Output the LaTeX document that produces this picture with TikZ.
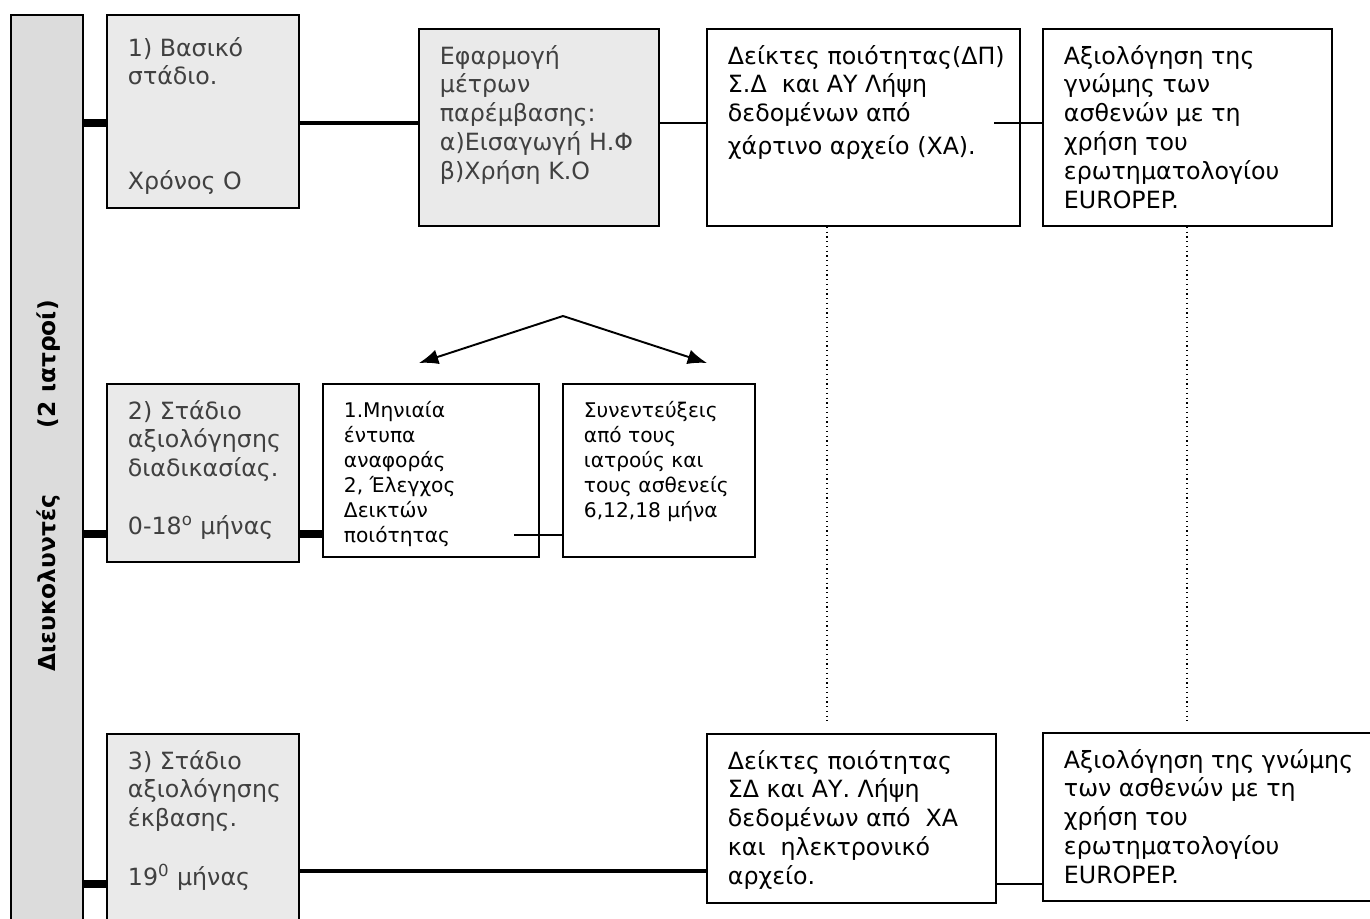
\documentclass[tikz,border=0pt]{standalone}
\usepackage{fontspec}
\setmainfont{DejaVu Sans}
\usetikzlibrary{arrows.meta}
\definecolor{stagefill}{HTML}{EAEAEA}
\definecolor{barfill}{HTML}{DCDCDC}
\definecolor{stagetext}{HTML}{404040}
% fixed-size text cell, lines never wrap
\newcommand{\boxtext}[3]{\begin{minipage}[t][#2][t]{#1}\begin{tabular}[t]{@{}l@{}}#3\end{tabular}\end{minipage}}
\tikzset{
    box/.style={draw, line width=1.1pt, anchor=north west, inner xsep=0.42cm, inner ysep=0.3cm,
        font=\fontsize{13.5}{16.4}\selectfont},
    stage/.style={box, fill=stagefill, text=stagetext},
    smallbox/.style={box, inner ysep=0.32cm, font=\fontsize{11.5}{14.2}\selectfont},
    heavy/.style={line width=4pt},
    mid/.style={line width=2pt},
    link/.style={line width=1.3pt},
    guide/.style={dotted, line width=0.7pt},
    split/.style={line width=1.1pt, -{Latex[length=11pt, width=8.5pt]}},
}
\begin{document}
\begin{tikzpicture}[x=0.02cm, y=-0.02cm]
                \useasboundingbox (0,0) rectangle (1370,919);
                \clip (0,0) rectangle (1370,919);

                % side bar
                \node[draw, line width=1.1pt, fill=barfill, anchor=north west, inner sep=0pt,
                    minimum width=1.44cm, minimum height=18.6cm] (bar) at (10,14) {};
                \node[rotate=90, font=\bfseries\fontsize{13.3}{15}\selectfont] (barlabel) at (49,486)
                    {Διευκολυντές\hspace{38pt}(2 ιατροί)};

                % row 1
                \node[stage, inner ysep=0.42cm] (base) at (106,14)
                    {\boxtext{3.0cm}{3.02cm}{1) Βασικό\\ στάδιο.\\[43pt] Χρόνος Ο}};
                \node[stage] (interv) at (418,28)
                    {\boxtext{3.96cm}{3.34cm}{Εφαρμογή\\ μέτρων\\ παρέμβασης:\\ α)Εισαγωγή Η.Φ\\ β)Χρήση Κ.Ο}};
                \node[box] (qualA) at (706,28)
                    {\boxtext{5.42cm}{3.34cm}{Δείκτες ποιότητας(ΔΠ)\\ Σ.Δ\ \ και ΑΥ Λήψη\\ δεδομένων από\\[2pt] χάρτινο αρχείο (ΧΑ).}};
                \node[box] (opinionA) at (1042,28)
                    {\boxtext{4.94cm}{3.34cm}{Αξιολόγηση της\\ γνώμης των\\ ασθενών με τη\\ χρήση του\\ ερωτηματολογίου\\ EUROPEP.}};

                % row 2
                \node[stage] (process) at (106,383)
                    {\boxtext{3.0cm}{2.96cm}{2) Στάδιο\\ αξιολόγησης\\ διαδικασίας.\\ \\ 0-18\textsuperscript{o} μήνας}};
                \node[smallbox] (reports) at (322,383)
                    {\boxtext{3.48cm}{2.82cm}{1.Μηνιαία\\ έντυπα\\ αναφοράς\\ 2, Έλεγχος\\ Δεικτών\\ ποιότητας}};
                \node[smallbox] (talks) at (562,383)
                    {\boxtext{3.0cm}{2.82cm}{Συνεντεύξεις\\ από τους\\ ιατρούς και\\ τους ασθενείς\\ 6,12,18 μήνα}};

                % row 3
                \node[stage] (outcome) at (106,733)
                    {\boxtext{3.0cm}{3.54cm}{3) Στάδιο\\ αξιολόγησης\\ έκβασης.\\ \\ 19\textsuperscript{0} μήνας}};
                \node[box] (qualB) at (706,733)
                    {\boxtext{4.94cm}{2.78cm}{Δείκτες ποιότητας\\ ΣΔ και ΑΥ. Λήψη\\ δεδομένων από\ \ ΧΑ\\ και\ \ ηλεκτρονικό\\ αρχείο.}};
                \node[box] (opinionB) at (1042,732)
                    {\boxtext{5.92cm}{2.76cm}{Αξιολόγηση της γνώμης\\ των ασθενών με τη\\ χρήση του\\ ερωτηματολογίου\\ EUROPEP.}};

                \coordinate (rowA) at (0,123);
                \coordinate (rowB) at (0,534);
                \coordinate (rowC) at (0,884);
                \coordinate (rowD) at (0,871);
                \coordinate (tailA) at (994,123);
                \coordinate (tailB) at (514,535);
                \coordinate (apex) at (563,316);
                \coordinate (tipL) at (419,363);
                \coordinate (tipR) at (707,363);
                \coordinate (endA) at (827,723);
                \coordinate (endB) at (1187,723);

                \draw[heavy] (bar.east |- rowA) -- (base.west |- rowA);
                \draw[mid] (base.east |- rowA) -- (interv.west |- rowA);
                \draw[link] (interv.east |- rowA) -- (qualA.west |- rowA);
                \draw[link] (tailA) -- (opinionA.west |- tailA);

                \draw[heavy] (bar.east |- rowB) -- (process.west |- rowB);
                \draw[heavy] (process.east |- rowB) -- (reports.west |- rowB);
                \draw[link] (tailB) -- (talks.west |- tailB);
                \draw[split] (apex) -- (tipL);
                \draw[split] (apex) -- (tipR);

                \draw[heavy] (bar.east |- rowC) -- (outcome.west |- rowC);
                \draw[mid] (outcome.east |- rowD) -- (qualB.west |- rowD);
                \draw[link] (qualB.east |- rowC) -- (opinionB.west |- rowC);

                \draw[guide] (qualA.south -| endA) -- (endA);
                \draw[guide] (opinionA.south -| endB) -- (endB);
\end{tikzpicture}
\end{document}
